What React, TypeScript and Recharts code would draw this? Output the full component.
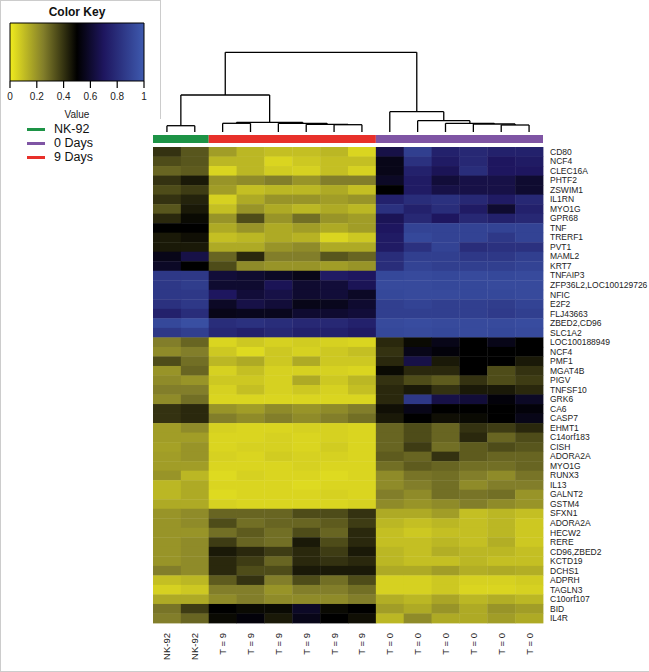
import { ScatterChart, Scatter, XAxis, YAxis, ReferenceLine, ReferenceArea } from 'recharts';

const samples = ['NK-92', 'NK-92', 'T = 9', 'T = 9', 'T = 9', 'T = 9', 'T = 9', 'T = 9', 'T = 0', 'T = 0', 'T = 0', 'T = 0', 'T = 0', 'T = 0'];

const genes = [
  'CD80', 'NCF4', 'CLEC16A', 'PHTF2', 'ZSWIM1', 'IL1RN', 'MYO1G', 'GPR68', 'TNF', 'TRERF1',
  'PVT1', 'MAML2', 'KRT7', 'TNFAIP3', 'ZFP36L2,LOC100129726', 'NFIC', 'E2F2', 'FLJ43663', 'ZBED2,CD96', 'SLC1A2',
  'LOC100188949', 'NCF4', 'PMF1', 'MGAT4B', 'PIGV', 'TNFSF10', 'GRK6', 'CA6', 'CASP7', 'EHMT1',
  'C14orf183', 'CISH', 'ADORA2A', 'MYO1G', 'RUNX3', 'IL13', 'GALNT2', 'GSTM4', 'SFXN1', 'ADORA2A',
  'HECW2', 'RERE', 'CD96,ZBED2', 'KCTD19', 'DCHS1', 'ADPRH', 'TAGLN3', 'C10orf107', 'BID', 'IL4R',
];

// one row per gene, columns in sample order within each group
const nkValues = [
  [0.4, 0.33], [0.35, 0.33], [0.3, 0.32], [0.4, 0.45], [0.35, 0.38],
  [0.4, 0.43], [0.33, 0.45], [0.42, 0.48], [0.5, 0.5], [0.45, 0.47],
  [0.45, 0.45], [0.55, 0.65], [0.58, 0.5], [0.85, 0.85], [0.85, 0.87],
  [0.85, 0.85], [0.82, 0.85], [0.75, 0.8], [0.92, 0.95], [0.85, 0.88],
  [0.25, 0.3], [0.22, 0.25], [0.35, 0.28], [0.2, 0.3], [0.22, 0.2],
  [0.25, 0.25], [0.22, 0.28], [0.4, 0.42], [0.4, 0.42], [0.18, 0.22],
  [0.18, 0.18], [0.17, 0.2], [0.18, 0.2], [0.18, 0.18], [0.2, 0.12],
  [0.12, 0.15], [0.12, 0.15], [0.15, 0.15], [0.2, 0.22], [0.2, 0.22],
  [0.2, 0.2], [0.2, 0.22], [0.2, 0.22], [0.2, 0.22], [0.25, 0.22],
  [0.1, 0.12], [0.06, 0.08], [0.15, 0.15], [0.27, 0.38], [0.25, 0.3],
];

const day9Values = [
  [0.18, 0.12, 0.1, 0.1, 0.12, 0.05], [0.12, 0.12, 0.05, 0.08, 0.1, 0.1], [0.05, 0.12, 0.07, 0.06, 0.1, 0.06],
  [0.2, 0.22, 0.25, 0.2, 0.25, 0.25], [0.18, 0.1, 0.12, 0.12, 0.15, 0.1], [0.06, 0.15, 0.2, 0.2, 0.18, 0.2],
  [0.1, 0.2, 0.15, 0.12, 0.15, 0.12], [0.2, 0.35, 0.2, 0.28, 0.2, 0.18], [0.15, 0.2, 0.15, 0.18, 0.15, 0.18],
  [0.1, 0.12, 0.15, 0.13, 0.05, 0.08], [0.15, 0.15, 0.2, 0.22, 0.15, 0.15], [0.3, 0.42, 0.25, 0.25, 0.33, 0.3],
  [0.35, 0.22, 0.2, 0.2, 0.18, 0.2], [0.62, 0.6, 0.58, 0.55, 0.72, 0.7], [0.6, 0.6, 0.68, 0.6, 0.62, 0.68],
  [0.7, 0.62, 0.65, 0.6, 0.62, 0.58], [0.58, 0.65, 0.62, 0.55, 0.56, 0.6], [0.55, 0.56, 0.56, 0.6, 0.6, 0.62],
  [0.8, 0.82, 0.8, 0.78, 0.78, 0.75], [0.78, 0.75, 0.78, 0.75, 0.75, 0.72], [0.05, 0.08, 0.06, 0.07, 0.06, 0.05],
  [0.08, 0.04, 0.08, 0.06, 0.08, 0.1], [0.12, 0.15, 0.08, 0.15, 0.08, 0.08], [0.06, 0.1, 0.06, 0.06, 0.06, 0.05],
  [0.08, 0.08, 0.06, 0.15, 0.08, 0.12], [0.06, 0.1, 0.06, 0.08, 0.06, 0.1], [0.05, 0.05, 0.05, 0.05, 0.05, 0.05],
  [0.2, 0.18, 0.22, 0.2, 0.22, 0.25], [0.25, 0.22, 0.25, 0.22, 0.25, 0.28], [0.06, 0.05, 0.05, 0.06, 0.06, 0.05],
  [0.05, 0.05, 0.06, 0.05, 0.06, 0.05], [0.05, 0.06, 0.06, 0.05, 0.07, 0.05], [0.06, 0.05, 0.07, 0.06, 0.06, 0.05],
  [0.05, 0.05, 0.05, 0.06, 0.05, 0.05], [0.04, 0.06, 0.05, 0.05, 0.04, 0.05], [0.05, 0.05, 0.05, 0.04, 0.05, 0.05],
  [0.04, 0.05, 0.05, 0.05, 0.06, 0.05], [0.06, 0.05, 0.05, 0.05, 0.05, 0.06], [0.3, 0.3, 0.3, 0.35, 0.35, 0.4],
  [0.35, 0.28, 0.3, 0.3, 0.32, 0.38], [0.28, 0.32, 0.28, 0.35, 0.3, 0.42], [0.38, 0.3, 0.28, 0.45, 0.35, 0.42],
  [0.45, 0.42, 0.38, 0.42, 0.38, 0.45], [0.42, 0.38, 0.3, 0.42, 0.4, 0.42], [0.42, 0.35, 0.35, 0.45, 0.45, 0.45],
  [0.32, 0.4, 0.25, 0.35, 0.28, 0.35], [0.25, 0.25, 0.2, 0.25, 0.25, 0.28], [0.22, 0.25, 0.22, 0.22, 0.22, 0.25],
  [0.5, 0.48, 0.48, 0.58, 0.48, 0.5], [0.48, 0.52, 0.45, 0.55, 0.5, 0.47],
];

const day0Values = [
  [0.65, 0.88, 0.75, 0.78, 0.75, 0.75], [0.55, 0.82, 0.72, 0.78, 0.7, 0.72], [0.55, 0.75, 0.68, 0.8, 0.7, 0.7],
  [0.58, 0.72, 0.62, 0.65, 0.65, 0.6], [0.5, 0.72, 0.65, 0.65, 0.65, 0.6], [0.75, 0.8, 0.82, 0.78, 0.72, 0.78],
  [0.82, 0.75, 0.8, 0.72, 0.6, 0.75], [0.68, 0.78, 0.7, 0.78, 0.75, 0.78], [0.7, 0.9, 0.9, 0.9, 0.9, 0.9],
  [0.72, 0.92, 0.9, 0.9, 0.85, 0.9], [0.72, 0.82, 0.9, 0.8, 0.82, 0.82], [0.8, 0.88, 0.88, 0.85, 0.85, 0.88],
  [0.8, 0.9, 0.88, 0.88, 0.88, 0.9], [0.92, 0.93, 0.92, 0.93, 0.92, 0.93], [0.93, 0.93, 0.92, 0.92, 0.93, 0.93],
  [0.92, 0.93, 0.93, 0.92, 0.92, 0.93], [0.88, 0.9, 0.88, 0.88, 0.87, 0.9], [0.88, 0.88, 0.88, 0.88, 0.86, 0.88],
  [0.93, 0.94, 0.93, 0.93, 0.93, 0.94], [0.92, 0.93, 0.92, 0.93, 0.92, 0.93], [0.42, 0.48, 0.55, 0.5, 0.55, 0.5],
  [0.4, 0.55, 0.52, 0.5, 0.5, 0.5], [0.42, 0.65, 0.45, 0.5, 0.5, 0.45], [0.48, 0.42, 0.42, 0.5, 0.35, 0.4],
  [0.4, 0.35, 0.32, 0.4, 0.35, 0.38], [0.42, 0.45, 0.4, 0.45, 0.45, 0.42], [0.42, 0.85, 0.65, 0.62, 0.52, 0.58],
  [0.47, 0.55, 0.5, 0.5, 0.5, 0.52], [0.45, 0.5, 0.47, 0.48, 0.5, 0.55], [0.3, 0.35, 0.3, 0.4, 0.38, 0.42],
  [0.3, 0.35, 0.3, 0.42, 0.3, 0.35], [0.3, 0.38, 0.28, 0.32, 0.35, 0.33], [0.32, 0.3, 0.4, 0.32, 0.3, 0.3],
  [0.28, 0.32, 0.3, 0.28, 0.28, 0.3], [0.22, 0.27, 0.28, 0.25, 0.22, 0.27], [0.22, 0.25, 0.28, 0.22, 0.25, 0.25],
  [0.25, 0.22, 0.28, 0.27, 0.28, 0.2], [0.22, 0.2, 0.22, 0.25, 0.22, 0.2], [0.15, 0.15, 0.18, 0.1, 0.12, 0.1],
  [0.12, 0.1, 0.12, 0.1, 0.12, 0.08], [0.1, 0.08, 0.1, 0.1, 0.12, 0.08], [0.1, 0.1, 0.12, 0.1, 0.14, 0.08],
  [0.12, 0.1, 0.14, 0.12, 0.12, 0.1], [0.12, 0.1, 0.1, 0.12, 0.1, 0.1], [0.15, 0.15, 0.18, 0.14, 0.15, 0.14],
  [0.06, 0.06, 0.08, 0.06, 0.06, 0.07], [0.06, 0.06, 0.08, 0.05, 0.05, 0.06], [0.14, 0.12, 0.16, 0.12, 0.14, 0.12],
  [0.18, 0.15, 0.2, 0.15, 0.2, 0.18], [0.12, 0.22, 0.15, 0.15, 0.18, 0.15],
];

const groups = [
  { name: 'NK-92', first: 0, last: 1, color: '#1d9346' },
  { name: '9 Days', first: 2, last: 7, color: '#e8302a' },
  { name: '0 Days', first: 8, last: 13, color: '#7f55a4' },
];
const legendOrder = ['NK-92', '0 Days', '9 Days'];

// hclust-style merges: negative = leaf (1-based), positive = earlier merge
const merges: [number, number, number][] = [
  [-1, -2, 6.3],
  [-3, -4, 8.7],
  [-7, -8, 7.3],
  [-6, 3, 7.7],
  [-5, 4, 8.7],
  [2, 5, 9.7],
  [1, 6, 37],
  [-13, -14, 7],
  [-12, 8, 8],
  [-11, 9, 8.7],
  [-10, 10, 11.3],
  [-9, 11, 20.3],
  [7, 12, 79.7],
];

const keyTicks = [0, 0.2, 0.4, 0.6, 0.8, 1];

const FONT = '"Liberation Sans", Arial, sans-serif';
const W = 649;
const H = 672;
const PLOT_LEFT = 152;
const PLOT_TOP = 147;
const PLOT_W = 390;
const PLOT_H = 476;
const cellW = PLOT_W / samples.length;
const cellH = PLOT_H / genes.length;

const colorStops: [number, number[]][] = [
  [0, [240, 235, 30]],
  [0.25, [130, 126, 42]],
  [0.5, [0, 0, 0]],
  [0.7, [30, 22, 95]],
  [1, [62, 90, 175]],
];

function heatColor(v: number) {
  for (let i = 1; i < colorStops.length; i++) {
    const [v1, c1] = colorStops[i];
    const [v0, c0] = colorStops[i - 1];
    if (v <= v1) {
      const t = (v - v0) / (v1 - v0);
      const c = c0.map((a, k) => Math.round(a + (c1[k] - a) * t));
      return `rgb(${c[0]},${c[1]},${c[2]})`;
    }
  }
  const c = colorStops[colorStops.length - 1][1];
  return `rgb(${c[0]},${c[1]},${c[2]})`;
}

const cells = genes.flatMap((g, r) => {
  const row = [...nkValues[r], ...day9Values[r], ...day0Values[r]];
  return row.map((v, c) => ({ x: c + 0.5, y: r + 0.5, v, gene: g }));
});

// dendrogram segments from the merge table
function buildDendrogram() {
  const nodes: { x: number; h: number }[] = [];
  const pos = (id: number) => (id < 0 ? { x: -id - 0.5, h: 0 } : nodes[id - 1]);
  const segs: { x1: number; y1: number; x2: number; y2: number }[] = [];
  merges.forEach(([a, b, h]) => {
    const pa = pos(a);
    const pb = pos(b);
    segs.push({ x1: pa.x, y1: pa.h, x2: pa.x, y2: h });
    segs.push({ x1: pa.x, y1: h, x2: pb.x, y2: h });
    segs.push({ x1: pb.x, y1: pb.h, x2: pb.x, y2: h });
    nodes.push({ x: (pa.x + pb.x) / 2, h });
  });
  return segs;
}
const dendroSegs = buildDendrogram();

const ColTick = ({ x, y, payload }: any) => (
  <text
    transform={`translate(${x + 3.5},${y}) rotate(-90)`}
    textAnchor="end"
    fontSize={9.5}
    fill="#222"
    fontFamily={FONT}
  >
    {samples[Math.floor(payload.value)]}
  </text>
);

const RowTick = ({ x, y, payload }: any) => (
  <text x={x} y={y} dy="0.35em" textAnchor="start" fontSize={8.5} fill="#222" fontFamily={FONT}>
    {genes[Math.floor(payload.value)]}
  </text>
);

const Cell = (p: any) => (
  <rect
    x={p.cx - cellW / 2}
    y={p.cy - cellH / 2}
    width={cellW + 0.4}
    height={cellH + 0.4}
    fill={heatColor(p.payload.v)}
  />
);

export default function App() {
  return (
    <div
      style={{
        position: 'absolute',
        left: 0,
        top: 0,
        width: W,
        height: H,
        background: '#fff',
        fontFamily: FONT,
        borderLeft: '1px solid #ccc',
        borderBottom: '1px solid #ccc',
        boxSizing: 'border-box',
      }}
    >
      {/* colour key */}
      <div style={{ position: 'absolute', left: 0, top: 0, width: 159, height: 118, borderRight: '1px solid #ccc', borderTop: '1px solid #ccc' }} />
      <div style={{ position: 'absolute', left: 0, top: 5, width: 152, textAlign: 'center', fontSize: 12, fontWeight: 'bold', color: '#111' }}>
        Color Key
      </div>
      <div style={{ position: 'absolute', left: 0, top: 0 }}>
        <ScatterChart width={160} height={120} margin={{ top: 23, left: 9, right: 17, bottom: 0 }}>
          <defs>
            <linearGradient id="keyGrad" x1="0" y1="0" x2="1" y2="0">
              {colorStops.map(([v]) => (
                <stop key={v} offset={`${v * 100}%`} stopColor={heatColor(v)} />
              ))}
            </linearGradient>
          </defs>
          <XAxis
            type="number"
            dataKey="x"
            domain={[0, 1]}
            ticks={keyTicks}
            tickFormatter={(v: number) => String(v)}
            axisLine={false}
            tickLine={{ stroke: '#000', strokeWidth: 1.2 }}
            tickSize={7}
            tickMargin={5}
            height={39}
            tick={{ fontSize: 10, fill: '#222', fontFamily: FONT }}
            label={{ value: 'Value', position: 'insideBottom', offset: 2, fontSize: 10, fill: '#222', fontFamily: FONT }}
          />
          <YAxis type="number" dataKey="y" domain={[0, 1]} hide />
          <ReferenceArea x1={0} x2={1} y1={0} y2={1} fill="url(#keyGrad)" fillOpacity={1} stroke="#000" strokeWidth={1} />
          <Scatter data={keyTicks.map((t) => ({ x: t, y: 0 }))} shape={() => <g />} isAnimationActive={false} />
        </ScatterChart>
      </div>

      {/* group legend */}
      <div style={{ position: 'absolute', left: 26, top: 122, fontSize: 12.5, color: '#111', lineHeight: '14px' }}>
        {legendOrder.map((name) => {
          const g = groups.find((k) => k.name === name)!;
          return (
            <div key={name} style={{ display: 'flex', alignItems: 'center', height: 14 }}>
              <span style={{ display: 'inline-block', width: 18, height: 3, background: g.color, marginRight: 9 }} />
              {name}
            </div>
          );
        })}
      </div>

      {/* dendrogram + group colour bar */}
      <div style={{ position: 'absolute', left: 0, top: 0 }}>
        <ScatterChart width={W} height={150} margin={{ top: 52, left: PLOT_LEFT, right: W - PLOT_LEFT - PLOT_W, bottom: 7 }}>
          <XAxis type="number" dataKey="x" domain={[0, samples.length]} hide />
          <YAxis type="number" dataKey="y" domain={[-11, 80]} hide width={0} />
          {groups.map((g) => (
            <ReferenceArea
              key={g.name}
              x1={g.first}
              x2={g.last + 1}
              y1={-11}
              y2={-3}
              fill={g.color}
              fillOpacity={1}
              stroke="none"
            />
          ))}
          {dendroSegs.map((s, i) => (
            <ReferenceLine
              key={i}
              segment={[{ x: s.x1, y: s.y1 }, { x: s.x2, y: s.y2 }]}
              stroke="#000"
              strokeWidth={1.3}
            />
          ))}
          <Scatter data={samples.map((s, i) => ({ x: i + 0.5, y: 0 }))} shape={() => <g />} isAnimationActive={false} />
        </ScatterChart>
      </div>

      {/* heatmap */}
      <div style={{ position: 'absolute', left: 0, top: 0 }}>
        <ScatterChart width={W} height={H} margin={{ top: PLOT_TOP, left: PLOT_LEFT, right: 7, bottom: 4 }}>
          <XAxis
            type="number"
            dataKey="x"
            domain={[0, samples.length]}
            ticks={samples.map((_, i) => i + 0.5)}
            axisLine={false}
            tickLine={false}
            tickSize={0}
            tickMargin={10}
            height={H - PLOT_TOP - PLOT_H - 4}
            tick={<ColTick />}
            interval={0}
          />
          <YAxis
            type="number"
            dataKey="y"
            orientation="right"
            reversed
            domain={[0, genes.length]}
            ticks={genes.map((_, i) => i + 0.5)}
            axisLine={false}
            tickLine={false}
            tickSize={0}
            tickMargin={7}
            width={W - PLOT_LEFT - PLOT_W - 7}
            tick={<RowTick />}
            interval={0}
          />
          <Scatter data={cells} shape={<Cell />} isAnimationActive={false} />
        </ScatterChart>
      </div>
    </div>
  );
}
